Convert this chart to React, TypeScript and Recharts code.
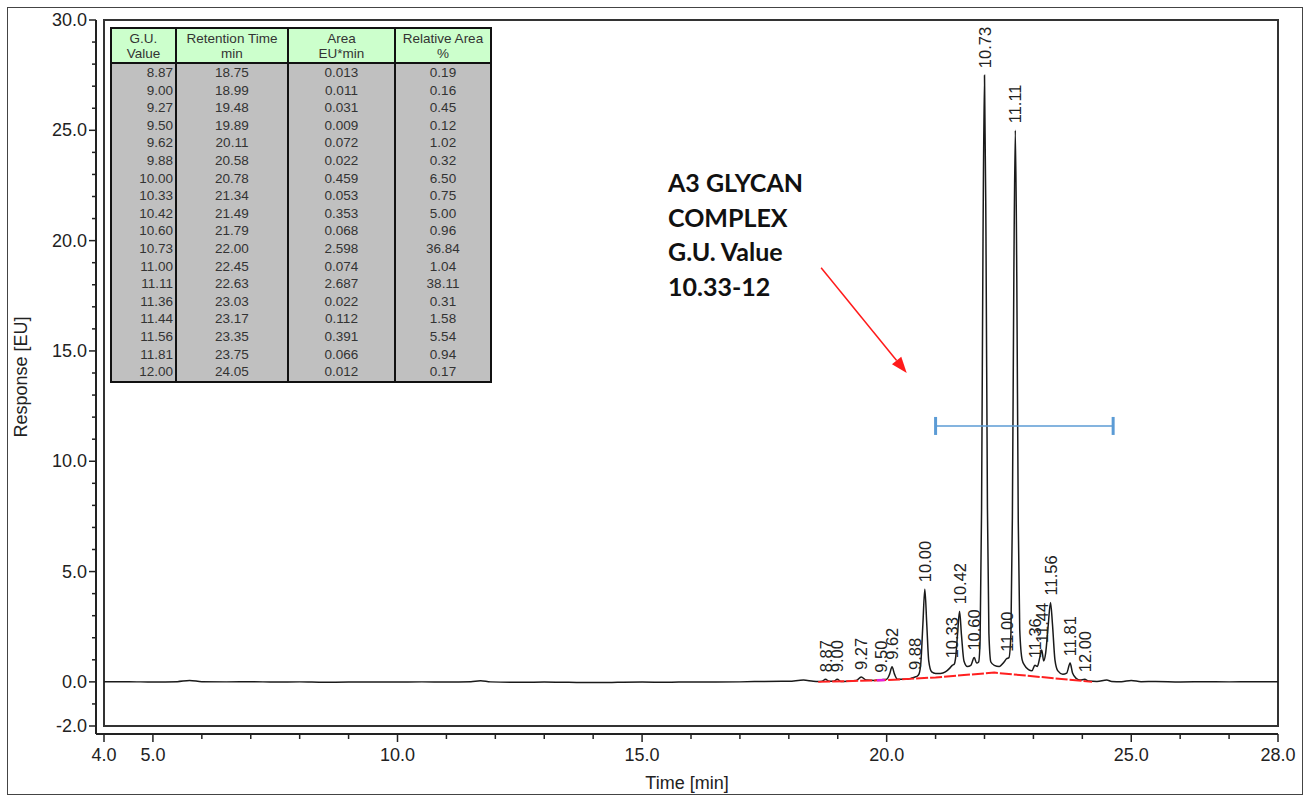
import React from "react";
import {
  ComposedChart,
  Line,
  Scatter,
  XAxis,
  YAxis,
  ReferenceArea,
  ReferenceLine,
} from "recharts";

// chromatogram trace (time in min, response in EU)
const traceTime = [
  4.0, 4.5, 5.0, 5.5, 5.75, 6.0, 6.5, 7.0, 7.5, 8.0, 8.5, 9.0, 9.5, 10.0, 10.5, 11.0, 11.5, 11.7, 11.9,
  12.5, 13.0, 13.5, 14.0, 14.5, 15.0, 15.5, 16.0, 16.5, 17.0, 17.5, 18.0, 18.3, 18.5,
  18.6, 18.68, 18.75, 18.82, 18.92, 18.99, 19.06, 19.2, 19.38, 19.48, 19.58, 19.75, 19.89, 20.0,
  20.06, 20.11, 20.16, 20.22, 20.4, 20.5, 20.58, 20.62, 20.66, 20.7, 20.74, 20.78, 20.82, 20.86,
  20.92, 21.0, 21.1, 21.2, 21.28, 21.34, 21.38, 21.41, 21.45, 21.49, 21.53, 21.58, 21.65, 21.72,
  21.79, 21.84, 21.88, 21.91, 21.94, 21.97, 22.0, 22.03, 22.06, 22.09, 22.13, 22.2, 22.3, 22.4,
  22.45, 22.5, 22.54, 22.57, 22.6, 22.63, 22.66, 22.69, 22.72, 22.77, 22.82, 22.9, 22.97, 23.03,
  23.08, 23.13, 23.17, 23.21, 23.25, 23.3, 23.35, 23.39, 23.44, 23.5, 23.6, 23.68, 23.75, 23.8,
  23.88, 23.95, 24.05, 24.12, 24.3, 24.5, 24.6, 24.8, 25.0, 25.2, 25.5, 26.0, 26.5, 27.0, 27.5, 28.0,
];
const traceResp = [
  0.0, 0.01, -0.01, 0.01, 0.06, 0.01, 0.0, 0.01, -0.01, 0.0, -0.02, -0.01, 0.0, -0.01, 0.0, -0.01, 0.01, 0.05, 0.0,
  -0.02, -0.01, -0.02, -0.03, -0.02, -0.01, -0.02, 0.0, -0.01, 0.0, 0.02, 0.03, 0.08, 0.03,
  0.02, 0.03, 0.12, 0.03, 0.03, 0.12, 0.02, 0.03, 0.06, 0.22, 0.08, 0.06, 0.1, 0.12,
  0.35, 0.68, 0.35, 0.12, 0.12, 0.16, 0.22, 0.25, 0.35, 0.9, 2.6, 4.2, 2.6, 0.95,
  0.45, 0.38, 0.38, 0.45, 0.6, 0.75, 0.8, 1.1, 2.2, 3.2, 2.1, 0.95, 0.7, 0.75,
  1.1, 0.85, 0.9, 1.9, 7.8, 20.2, 27.5, 20.2, 7.9, 2.2, 0.9, 0.75, 0.7, 0.9,
  1.05, 1.1, 2.2, 7.5, 18.4, 25.0, 18.4, 7.3, 2.4, 1.0, 0.75, 0.55, 0.5, 0.75,
  0.7, 1.1, 1.45, 0.95, 1.3, 2.5, 3.6, 2.6, 1.0, 0.5, 0.35, 0.4, 0.85, 0.4,
  0.15, 0.08, 0.12, 0.04, 0.02, 0.08, 0.02, 0.01, 0.06, 0.01, 0.02, 0.0, 0.01, 0.0, 0.01, 0.0,
];

// integration baseline (red)
const baseTime = [18.6, 20.0, 21.0, 22.2, 24.2];
const baseResp = [0.0, 0.08, 0.2, 0.42, 0.0];
const magentaTime = [19.8, 19.96];
const magentaResp = [0.07, 0.09];

// peak table
const guValues = [8.87, 9.0, 9.27, 9.5, 9.62, 9.88, 10.0, 10.33, 10.42, 10.6, 10.73, 11.0, 11.11, 11.36, 11.44, 11.56, 11.81, 12.0];
const retentionTimes = [18.75, 18.99, 19.48, 19.89, 20.11, 20.58, 20.78, 21.34, 21.49, 21.79, 22.0, 22.45, 22.63, 23.03, 23.17, 23.35, 23.75, 24.05];
const areas = [0.013, 0.011, 0.031, 0.009, 0.072, 0.022, 0.459, 0.053, 0.353, 0.068, 2.598, 0.074, 2.687, 0.022, 0.112, 0.391, 0.066, 0.012];
const relAreas = [0.19, 0.16, 0.45, 0.12, 1.02, 0.32, 6.5, 0.75, 5.0, 0.96, 36.84, 1.04, 38.11, 0.31, 1.58, 5.54, 0.94, 0.17];
// apex heights
const peakHeights = [0.12, 0.12, 0.22, 0.1, 0.68, 0.22, 4.2, 0.75, 3.2, 1.1, 27.5, 1.05, 25.0, 0.75, 1.45, 3.6, 0.85, 0.12];

const xTicks = [4, 5, 6, 7, 8, 9, 10, 11, 12, 13, 14, 15, 16, 17, 18, 19, 20, 21, 22, 23, 24, 25, 26, 27, 28];
const xLabels = [4, 5, 10, 15, 20, 25, 28];
const yTicks = [-2, -1, 0, 1, 2, 3, 4, 5, 6, 7, 8, 9, 10, 11, 12, 13, 14, 15, 16, 17, 18, 19, 20, 21, 22, 23, 24, 25, 26, 27, 28, 29, 30];
const yLabels = [-2, 0, 5, 10, 15, 20, 25, 30];

// annotation anchors (data coordinates)
const arrowFrom = { x: 18.66, y: 18.77 };
const arrowTo = { x: 20.41, y: 14.0 };
const rangeFrom = { x: 21.0, y: 11.6 };
const rangeTo = { x: 24.63, y: 11.6 };
const noteLines = ["A3 GLYCAN", "COMPLEX", "G.U. Value", "10.33-12"];

const FONT = "'Liberation Sans', Arial, sans-serif";

const traceData = traceTime.map((t, i) => ({ t, v: traceResp[i] }));
const baseData = baseTime.map((t, i) => ({ t, v: baseResp[i] }));
const magentaData = magentaTime.map((t, i) => ({ t, v: magentaResp[i] }));
const peakData = retentionTimes.map((t, i) => ({ t, v: peakHeights[i], gu: guValues[i] }));

function TimeTick({ x, y, payload }: any) {
  const v = payload.value;
  const major = xLabels.includes(v);
  return (
    <g>
      <line x1={x} y1={y} x2={x} y2={y + (major ? 8 : 5)} stroke="#222" strokeWidth={1.5} />
      {major && (
        <text x={x} y={y + 27} textAnchor="middle" fontSize={18} fontFamily={FONT} fill="#222">
          {v.toFixed(1)}
        </text>
      )}
    </g>
  );
}

function RespTick({ x, y, payload }: any) {
  const v = payload.value;
  const major = yLabels.includes(v);
  return (
    <g>
      <line x1={x - (major ? 7 : 4)} y1={y} x2={x} y2={y} stroke="#222" strokeWidth={1.5} />
      {major && (
        <text x={x - 9} y={y + 6} textAnchor="end" fontSize={18} fontFamily={FONT} fill="#222">
          {v.toFixed(1)}
        </text>
      )}
    </g>
  );
}

function PeakLabel({ cx, cy, payload }: any) {
  const ly = cy - 7;
  return (
    <text
      x={cx}
      y={ly}
      transform={`rotate(-90 ${cx} ${ly})`}
      dominantBaseline="central"
      fontSize={16.5}
      fontFamily={FONT}
      fill="#222"
    >
      {payload.gu.toFixed(2)}
    </text>
  );
}

function Arrow({ x1, y1, x2, y2 }: any) {
  const a = Math.atan2(y2 - y1, x2 - x1);
  const len = 16;
  const w = 6;
  const bx = x2 - len * Math.cos(a);
  const by = y2 - len * Math.sin(a);
  const px = -Math.sin(a) * w;
  const py = Math.cos(a) * w;
  return (
    <g>
      <line x1={x1} y1={y1} x2={bx} y2={by} stroke="#ff1a1a" strokeWidth={1.5} />
      <polygon points={`${x2},${y2} ${bx + px},${by + py} ${bx - px},${by - py}`} fill="#ff1a1a" />
    </g>
  );
}

function RangeBar({ x1, y1, x2, y2 }: any) {
  return (
    <g stroke="#5b9bd5">
      <line x1={x1} y1={y1} x2={x2} y2={y2} strokeWidth={1.5} />
      <line x1={x1} y1={y1 - 9} x2={x1} y2={y1 + 9} strokeWidth={3} />
      <line x1={x2} y1={y2 - 9} x2={x2} y2={y2 + 9} strokeWidth={3} />
    </g>
  );
}

const cell: React.CSSProperties = {
  borderLeft: "2px solid #111",
  borderRight: "2px solid #111",
  padding: 0,
};

export default function App() {
  return (
    <div style={{ position: "relative", width: 1311, height: 797, background: "#fff" }}>
      <style>{"body{margin:0}"}</style>
      <ComposedChart
        width={1311}
        height={797}
        margin={{ top: 20, right: 33, bottom: 3, left: 0 }}
        style={{ fontFamily: FONT }}
      >
        <XAxis
          type="number"
          dataKey="t"
          domain={[4, 28]}
          ticks={xTicks}
          interval={0}
          padding={{ left: 8, right: 0 }}
          allowDataOverflow
          height={60}
          tickSize={0}
          tickMargin={0}
          tickLine={false}
          tick={<TimeTick />}
          axisLine={{ stroke: "#222", strokeWidth: 2 }}
          label={{ value: "Time [min]", position: "insideBottom", offset: 5, fontSize: 18, fill: "#222" }}
        />
        <YAxis
          type="number"
          dataKey="v"
          domain={[-2, 30]}
          ticks={yTicks}
          interval={0}
          padding={{ top: 0, bottom: 8 }}
          allowDataOverflow
          width={96}
          tickSize={0}
          tickMargin={0}
          tickLine={false}
          tick={<RespTick />}
          axisLine={{ stroke: "#222", strokeWidth: 2 }}
          label={{
            value: "Response [EU]",
            angle: -90,
            position: "insideLeft",
            offset: 21,
            fontSize: 18,
            fill: "#222",
            style: { textAnchor: "middle" },
          }}
        />
        <ReferenceArea x1={4} x2={28} y1={-2} y2={30} fill="none" fillOpacity={0} stroke="#333" strokeWidth={2} ifOverflow="visible" />
        <Line data={traceData} dataKey="v" type="monotone" stroke="#1a1a1a" strokeWidth={1.5} dot={false} activeDot={false} isAnimationActive={false} />
        <Line data={baseData} dataKey="v" type="linear" stroke="#ff2020" strokeWidth={2} strokeDasharray="12 2" dot={false} activeDot={false} isAnimationActive={false} />
        <Line data={magentaData} dataKey="v" type="linear" stroke="#e020e0" strokeWidth={2.5} dot={false} activeDot={false} isAnimationActive={false} />
        <Scatter data={peakData} dataKey="v" shape={PeakLabel} isAnimationActive={false} />
        <ReferenceLine segment={[arrowFrom, arrowTo]} shape={Arrow} ifOverflow="visible" />
        <ReferenceLine segment={[rangeFrom, rangeTo]} shape={RangeBar} ifOverflow="visible" />
      </ComposedChart>

      <div
        style={{
          position: "absolute",
          left: 7,
          top: 7,
          width: 1296,
          height: 788,
          border: "1.5px solid #444",
          boxSizing: "border-box",
          pointerEvents: "none",
        }}
      />

      <table
        style={{
          position: "absolute",
          left: 110,
          top: 27,
          width: 380,
          borderCollapse: "collapse",
          tableLayout: "fixed",
          fontFamily: FONT,
          fontSize: 13.5,
          color: "#333",
          border: "2px solid #111",
        }}
      >
        <colgroup>
          <col style={{ width: 65 }} />
          <col style={{ width: 112 }} />
          <col style={{ width: 107 }} />
          <col style={{ width: 96 }} />
        </colgroup>
        <thead>
          <tr style={{ background: "#ccffcc", height: 35 }}>
            {[["G.U.", "Value"], ["Retention Time", "min"], ["Area", "EU*min"], ["Relative Area", "%"]].map((h, i) => (
              <th key={i} style={{ ...cell, fontWeight: "normal", lineHeight: "15px", borderBottom: "2px solid #111" }}>
                {h[0]}
                <br />
                {h[1]}
              </th>
            ))}
          </tr>
        </thead>
        <tbody style={{ background: "#c0c0c0" }}>
          {guValues.map((g, i) => (
            <tr key={i} style={{ height: 17.6, lineHeight: "17.6px" }}>
              <td style={{ ...cell, textAlign: "right", paddingRight: 2 }}>{g.toFixed(2)}</td>
              <td style={{ ...cell, textAlign: "center" }}>{retentionTimes[i].toFixed(2)}</td>
              <td style={{ ...cell, textAlign: "center" }}>{areas[i].toFixed(3)}</td>
              <td style={{ ...cell, textAlign: "center" }}>{relAreas[i].toFixed(2)}</td>
            </tr>
          ))}
        </tbody>
      </table>

      <div
        style={{
          position: "absolute",
          left: 668,
          top: 165,
          fontFamily: "Lato, 'Open Sans', sans-serif",
          fontWeight: 700,
          fontSize: 25,
          lineHeight: "34.5px",
          color: "#111",
        }}
      >
        {noteLines.map((l, i) => (
          <div key={i}>{l}</div>
        ))}
      </div>
    </div>
  );
}
